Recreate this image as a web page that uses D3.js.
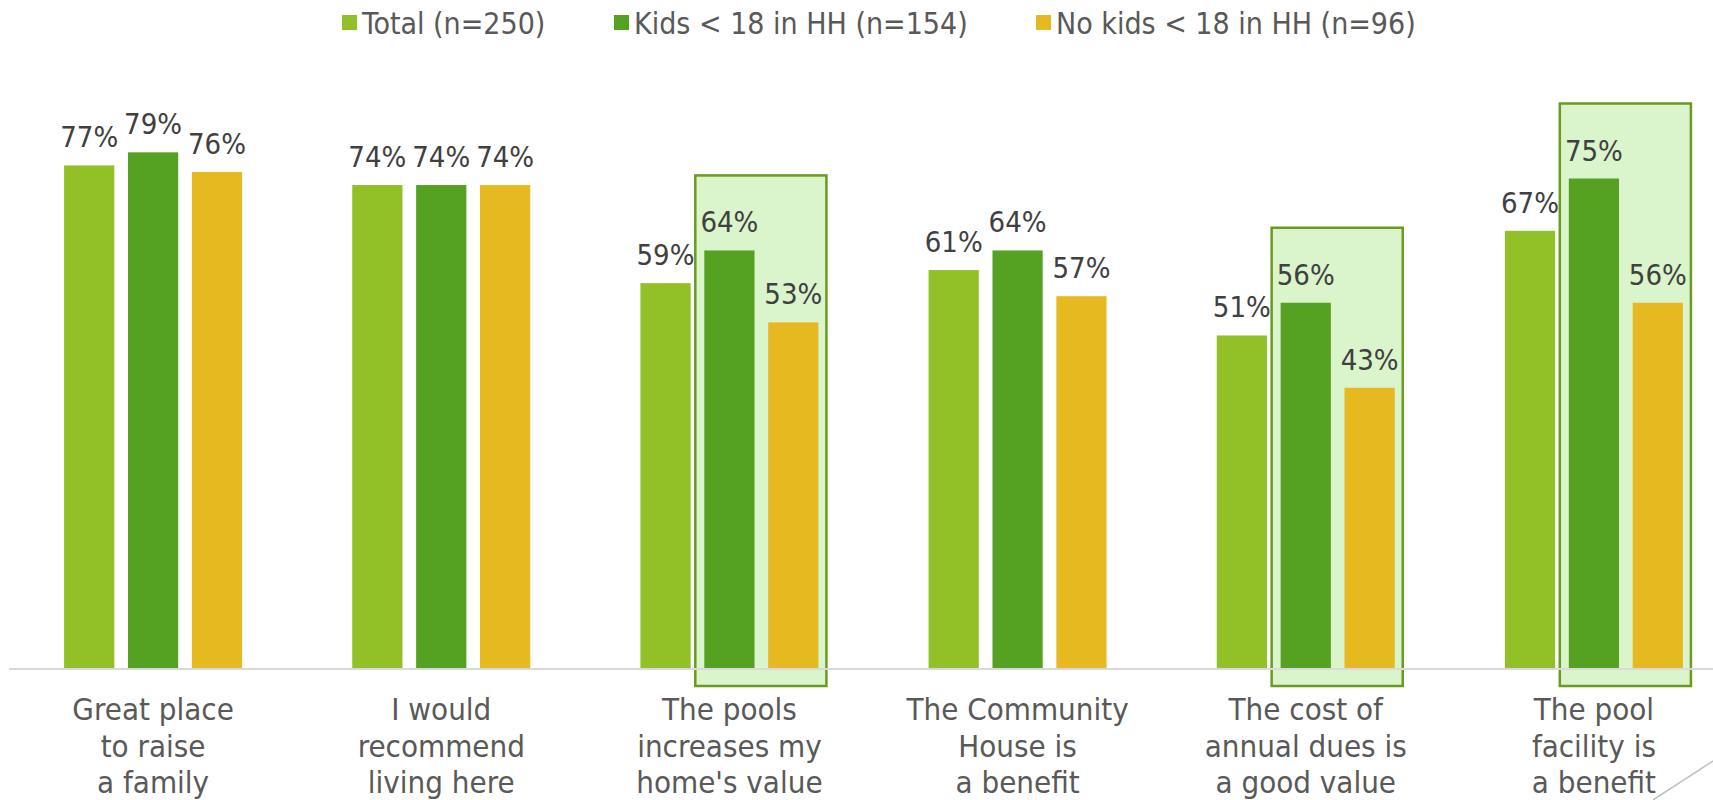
<!DOCTYPE html>
<html>
<head>
<meta charset="utf-8">
<script src="https://cdn.jsdelivr.net/npm/d3@7"></script>
<style>
  html, body { margin: 0; padding: 0; background: #ffffff; }
  svg { display: block; }
  text { font-family: "DejaVu Sans Condensed", "DejaVu Sans", sans-serif; font-stretch: semi-condensed; }
</style>
</head>
<body>
<svg id="chart" width="1713" height="800"></svg>
<script>
// Survey statements (one entry per wrapped line)
const categories = [
  ["Great place", "to raise", "a family"],
  ["I would", "recommend", "living here"],
  ["The pools", "increases my", "home's value"],
  ["The Community", "House is", "a benefit"],
  ["The cost of", "annual dues is", "a good value"],
  ["The pool", "facility is", "a benefit"]
];
const seriesNames = ["Total (n=250)", "Kids < 18 in HH (n=154)", "No kids < 18 in HH (n=96)"];
const totalValues  = [77, 74, 59, 61, 51, 67];
const kidsValues   = [79, 74, 64, 64, 56, 75];
const noKidsValues = [76, 74, 53, 57, 43, 56];
// Statements where the households-with-kids comparison is called out
const highlighted  = [false, false, true, false, true, true];

const colors = ["#91c127", "#55a122", "#e5b91f"];
const seriesValues = [totalValues, kidsValues, noKidsValues];

const W = 1713, H = 800;
const svg = d3.select("#chart");

const baseY = 669;
const y = d3.scaleLinear().domain([0, 100]).range([baseY, 15]);

const x0 = d3.scaleBand()
  .domain(d3.range(categories.length))
  .range([9, 1738])
  .padding(0);

const x1 = d3.scaleBand()
  .domain(d3.range(seriesNames.length))
  .range([-89, 89])
  .paddingInner(0.214)
  .paddingOuter(0);

const groupCenter = i => x0(i) + x0.bandwidth() / 2;

// Highlight boxes behind the kids / no-kids pair
const boxes = svg.append("g");
categories.forEach((c, i) => {
  if (!highlighted[i]) return;
  const left = groupCenter(i) + x1(1) - 9;
  const right = groupCenter(i) + x1(2) + x1.bandwidth() + 8;
  const top = y(Math.max(kidsValues[i], noKidsValues[i])) - 75;
  const bottom = baseY + 17;
  boxes.append("rect")
    .attr("x", left).attr("y", top)
    .attr("width", right - left).attr("height", bottom - top)
    .attr("fill", "#daf4cc")
    .attr("stroke", "#6a9a1e")
    .attr("stroke-width", 2.5);
});

// Bars
const groups = svg.append("g").selectAll("g")
  .data(categories.map((c, i) => i))
  .join("g")
  .attr("transform", i => `translate(${groupCenter(i)},0)`);

groups.selectAll("rect")
  .data(i => seriesValues.map((vals, s) => ({ s, v: vals[i] })))
  .join("rect")
  .attr("x", d => x1(d.s))
  .attr("y", d => y(d.v))
  .attr("width", x1.bandwidth())
  .attr("height", d => y(0) - y(d.v))
  .attr("fill", d => colors[d.s]);

groups.selectAll("text.val")
  .data(i => seriesValues.map((vals, s) => ({ s, v: vals[i] })))
  .join("text")
  .attr("class", "val")
  .attr("x", d => x1(d.s) + x1.bandwidth() / 2)
  .attr("y", d => y(d.v) - 18)
  .attr("text-anchor", "middle")
  .attr("font-size", 29)
  .attr("fill", "#404040")
  .text(d => d.v + "%");

// Baseline
svg.append("line")
  .attr("x1", 9).attr("x2", W)
  .attr("y1", baseY).attr("y2", baseY)
  .attr("stroke", "#d9d9d9")
  .attr("stroke-width", 2);

// Category labels
const catLabels = svg.append("g").selectAll("text")
  .data(categories)
  .join("text")
  .attr("text-anchor", "middle")
  .attr("font-size", 31)
  .attr("fill", "#595959")
  .attr("x", (c, i) => groupCenter(i));
catLabels.selectAll("tspan")
  .data(c => c)
  .join("tspan")
  .attr("x", function () { return this.parentNode.getAttribute("x"); })
  .attr("y", (l, j) => 720 + j * 36.5)
  .text(l => l);

// Legend
const legendX = [342, 614, 1036];
const legend = svg.append("g").selectAll("g")
  .data(seriesNames)
  .join("g")
  .attr("transform", (n, i) => `translate(${legendX[i]},0)`);
legend.append("rect")
  .attr("x", 0).attr("y", 15)
  .attr("width", 15).attr("height", 15)
  .attr("fill", (n, i) => colors[i]);
legend.append("text")
  .attr("x", 20).attr("y", 34)
  .attr("font-size", 30)
  .attr("fill", "#595959")
  .text(n => n);

// Slide corner accent
svg.append("line")
  .attr("x1", 1653).attr("y1", 800)
  .attr("x2", 1713).attr("y2", 761)
  .attr("stroke", "#bfbfbf")
  .attr("stroke-width", 1.5);
</script>
</body>
</html>
